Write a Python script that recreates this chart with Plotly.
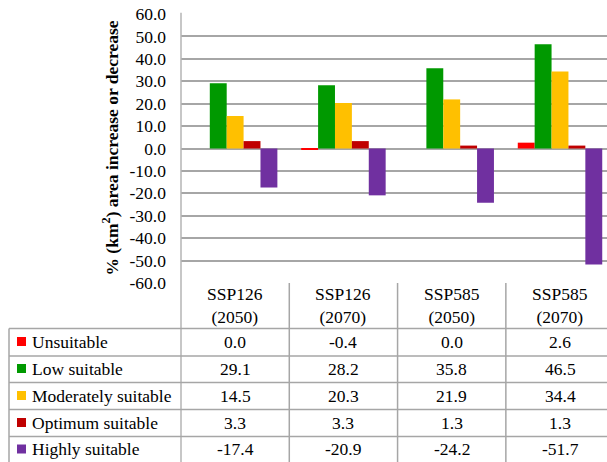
import plotly.graph_objects as go

# Scenario columns and suitability classes
scenario_names = ["SSP126", "SSP126", "SSP585", "SSP585"]
scenario_years = ["(2050)", "(2070)", "(2050)", "(2070)"]
classes = ["Unsuitable", "Low suitable", "Moderately suitable", "Optimum suitable", "Highly suitable"]
colors = ["#FF0000", "#009900", "#FFC000", "#C00000", "#7030A0"]

unsuitable = [0.0, -0.4, 0.0, 2.6]
low_suitable = [29.1, 28.2, 35.8, 46.5]
moderately_suitable = [14.5, 20.3, 21.9, 34.4]
optimum_suitable = [3.3, 3.3, 1.3, 1.3]
highly_suitable = [-17.4, -20.9, -24.2, -51.7]
series = [unsuitable, low_suitable, moderately_suitable, optimum_suitable, highly_suitable]

yticks = [-60, -50, -40, -30, -20, -10, 0, 10, 20, 30, 40, 50, 60]

W, H = 607, 462
ML, MT, MB = 181, 14, 179
PW, PH = W - ML, H - MT - MB
FONT = "Times New Roman, Liberation Serif, serif"
GRID = "#a6a6a6"
FS = 17.5

xs = list(range(len(scenario_names)))
fig = go.Figure()
for name, vals, col in zip(classes, series, colors):
    fig.add_trace(go.Bar(x=xs, y=vals, name=name, marker=dict(color=col, line=dict(width=0))))


def py(pix):
    """pixel row -> paper y"""
    return (H - MB - pix) / PH


def px(pix):
    """pixel column -> paper x"""
    return (pix - ML) / PW


shapes = []
annotations = []
txt = dict(family=FONT, size=FS, color="black")

# left axis line running down through the table
shapes.append(dict(type="line", xref="paper", yref="paper", x0=0, x1=0, y0=1.005, y1=py(H),
                   line=dict(color="#b4b4b4", width=1.5)))
# category separators inside the table
for b in [0.5, 1.5, 2.5]:
    shapes.append(dict(type="line", xref="x", yref="paper", x0=b, x1=b, y0=0, y1=py(H),
                       line=dict(color=GRID, width=1.5)))
# table left border
shapes.append(dict(type="line", xref="paper", yref="paper", x0=px(9), x1=px(9),
                   y0=py(328.5), y1=py(H), line=dict(color=GRID, width=1.5)))
# table row lines
row_lines = [328.5, 356, 382.5, 409.5, 436.5]
for r in row_lines:
    shapes.append(dict(type="line", xref="paper", yref="paper", x0=px(9), x1=1,
                       y0=py(r), y1=py(r), line=dict(color=GRID, width=1.5)))

# header row with scenario names
for i, (n, yr) in enumerate(zip(scenario_names, scenario_years)):
    annotations.append(dict(x=i, y=py(305), xref="x", yref="paper", text=f"{n}<br>{yr}",
                            showarrow=False, font=txt, xanchor="center", yanchor="middle",
                            align="center"))

# data rows
row_centers = [341.5, 368.5, 395.5, 422.5, 449]
for name, vals, col, rc in zip(classes, series, colors, row_centers):
    shapes.append(dict(type="rect", xref="paper", yref="paper", x0=px(17), x1=px(26),
                       y0=py(rc + 4.5), y1=py(rc - 4.5), fillcolor=col, line=dict(width=0)))
    annotations.append(dict(x=px(30), y=py(rc), xref="paper", yref="paper", text=name,
                            showarrow=False, font=txt, xanchor="left", yanchor="middle"))
    for i, v in enumerate(vals):
        annotations.append(dict(x=i, y=py(rc), xref="x", yref="paper", text=f"{v:.1f}",
                                showarrow=False, font=txt, xanchor="center", yanchor="middle"))

# y axis title
annotations.append(dict(x=0, y=0.5, xref="paper", yref="paper", xshift=-71,
                        text="<b>% (km<sup>2</sup>) area increase or decrease</b>",
                        textangle=-90, showarrow=False, font=txt,
                        xanchor="center", yanchor="middle"))

fig.update_layout(
    width=W, height=H,
    font=dict(family=FONT),
    margin=dict(l=ML, r=0, t=MT, b=MB, pad=0),
    paper_bgcolor="white", plot_bgcolor="white",
    showlegend=False,
    barmode="group", bargap=0.22, bargroupgap=0,
    shapes=shapes, annotations=annotations,
    xaxis=dict(range=[-0.5, 3.434], showticklabels=False, showgrid=False, zeroline=False,
               showline=False, ticks=""),
    yaxis=dict(range=[-60, 60], tickvals=yticks, ticktext=[f"{t:.1f}" for t in yticks],
               showgrid=True, gridcolor=GRID, gridwidth=1.5,
               zeroline=True, zerolinecolor=GRID, zerolinewidth=1.5,
               showline=False, ticks="", ticklabelstandoff=14,
               tickfont=txt),
)

fig.write_html("out.html")
